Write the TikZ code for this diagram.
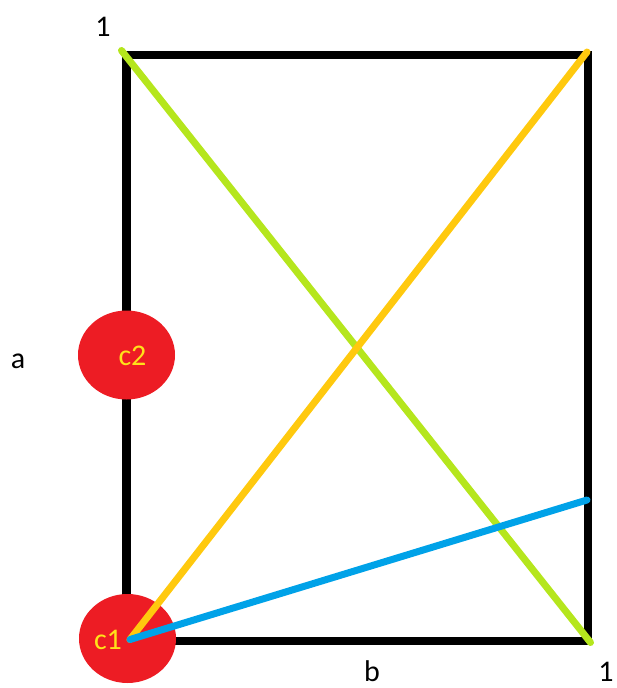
\documentclass[tikz,border=0pt]{standalone}
\usepackage{fontspec}
\setmainfont{Carlito}
\usepackage{xcolor}
\usetikzlibrary{shapes.geometric}

\definecolor{paintred}{HTML}{ED1C24}
\definecolor{paintlime}{HTML}{B5E61D}
\definecolor{paintgold}{HTML}{FFC90E}
\definecolor{paintblue}{HTML}{00A2E8}
\definecolor{paintyellow}{HTML}{FFE21A}

\begin{document}
\begin{tikzpicture}[
    x=1pt, y=-1pt,
    edge/.style={draw=black, line width=8.5pt},
    dot/.style={ellipse, fill=paintred, draw=none, minimum width=97pt,
                minimum height=89pt, inner sep=0pt},
    ctext/.style={text=paintyellow, font=\fontsize{30}{36}\selectfont,
                  inner sep=0pt, anchor=base},
    lbl/.style={font=\fontsize{30}{36}\selectfont, inner sep=0pt, anchor=base},
    diag/.style={line width=7pt, line cap=round}
]
\useasboundingbox (0,0) rectangle (616,688);

% ── Box corners ──
\coordinate (tl) at (126.5,55);
\coordinate (tr) at (588,55);
\coordinate (br) at (588,641);
\coordinate (bl) at (126.5,641);

\draw[edge] (tl) -- (tr) -- (br) -- (bl) -- cycle;

% ── Points ──
\node[dot] (c2) at (126.5,355) {};
\node[dot] (c1) at (127.5,638.5) {};
\node[ctext] (c2t) at (132.5,365) {c2};
\node[ctext] (c1t) at (108,649) {c1};

% ── Diagonals ──
\coordinate (gs) at (121.5,50.5);
\coordinate (ge) at (590.5,642.5);
\coordinate (os) at (130,639.5);
\coordinate (oe) at (587,52);
\coordinate (be) at (587,500);

\draw[diag, paintlime] (gs) -- (ge);
\draw[diag, paintgold] (os) -- (oe);
\draw[diag, paintblue] (os) -- (be);

% ── Labels ──
\node[lbl] (one1) at (103,36) {1};
\node[lbl] (one2) at (606,681) {1};
\node[lbl] (la) at (18,368) {a};
\node[lbl] (lb) at (372,681) {b};

\end{tikzpicture}
\end{document}
